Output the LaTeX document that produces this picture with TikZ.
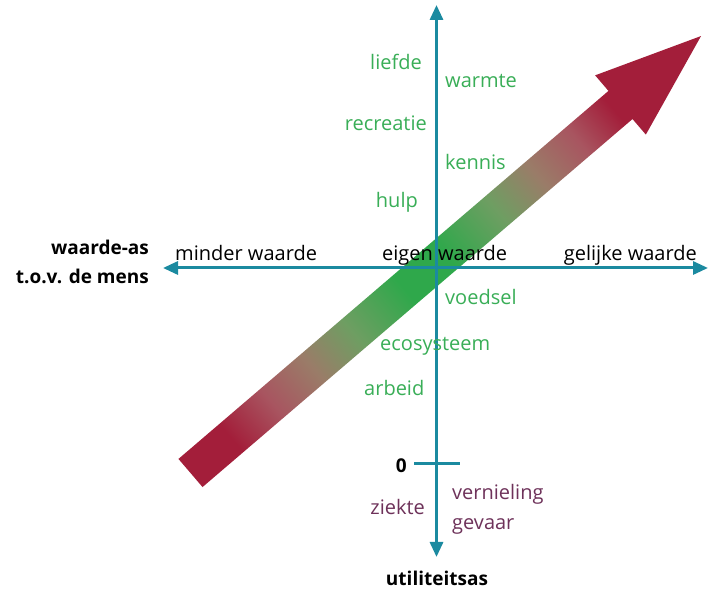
\documentclass[tikz,border=0pt]{standalone}
\usepackage{fontspec}
\setmainfont{Open Sans}
\usetikzlibrary{arrows.meta, positioning}
\definecolor{axteal}{HTML}{1B8AA0}
\definecolor{lblgreen}{HTML}{39AE57}
\definecolor{lblplum}{HTML}{6E325A}
\definecolor{arrred}{HTML}{A31E3A}
\definecolor{arrgreen}{HTML}{2FA84B}
\definecolor{fadepink}{HTML}{A85560}
\definecolor{fadebrown}{HTML}{9A7C68}
\definecolor{fadeolive}{HTML}{6E9E62}
\pgfdeclarehorizontalshading{valuefade}{100bp}{color(0bp)=(arrred); color(29bp)=(arrred);
  color(33bp)=(fadepink); color(37bp)=(fadebrown); color(41bp)=(fadeolive);
  color(46bp)=(arrgreen); color(50bp)=(arrgreen); color(55bp)=(fadeolive);
  color(59bp)=(fadebrown); color(63bp)=(fadepink); color(66.5bp)=(arrred);
  color(100bp)=(arrred)}

\begin{document}
\begin{tikzpicture}[x=1pt, y=1pt,
  >={Triangle[length=15pt, width=13pt]},
  axis/.style={<->, line width=3pt, axteal},
  lbl/.style={font=\fontsize{20}{24}\selectfont, inner sep=0pt, text=#1},
  axtitle/.style={font=\fontsize{19}{23}\selectfont\bfseries, inner sep=0pt, text=black},
]

% Background
\useasboundingbox (0,0) rectangle (709,593);
\fill[white] (0,0) rectangle (709,593);

% =============================================
% Shaded value arrow (drawn first, axes go over it)
% =============================================
\begin{scope}[transform canvas={shift={(190.5,120)}, rotate=40.56}]
  \shade[shading=valuefade] (0,-18.5) -- (566,-18.5) -- (566,-39) -- (672,0)
    -- (566,39) -- (566,18.5) -- (0,18.5) -- cycle;
\end{scope}

% =============================================
% Axes
% =============================================
\coordinate (west) at (163,325);
\coordinate (east) at (708,325);
\coordinate (top) at (436.5,588);
\coordinate (bottom) at (436.5,36);
\coordinate (tickl) at (414,129);
\coordinate (tickr) at (460,129);

\draw[axis] (west) -- (east);
\draw[axis] (bottom) -- (top);
\draw[line width=3pt, axteal] (tickl) -- (tickr);

% Axis titles
\node[axtitle, anchor=base east] (wtitle) at (149,338) {waarde-as};
\node[axtitle, anchor=base east] (wtitle2) at (149,309.7) {t.o.v. de mens};
\node[axtitle, anchor=base] (utitle) at (437,7) {utiliteitsas};
\node[axtitle, anchor=base east] (zero) at (407,120) {0};

% =============================================
% Labels on the horizontal axis
% =============================================
\node[lbl=black, anchor=base west] (minder) at (175,332.3) {minder waarde};
\node[lbl=black, anchor=base west] (eigen) at (382,332.3) {eigen waarde};
\node[lbl=black, anchor=base east] (gelijk) at (697,332.3) {gelijke waarde};

% =============================================
% Useful things (green)
% =============================================
\node[lbl=lblgreen, anchor=base east] (liefde) at (422,523.7) {liefde};
\node[lbl=lblgreen, anchor=base west] (warmte) at (445,505.3) {warmte};
\node[lbl=lblgreen, anchor=base east] (recreatie) at (427,462.3) {recreatie};
\node[lbl=lblgreen, anchor=base west] (kennis) at (445,423.7) {kennis};
\node[lbl=lblgreen, anchor=base east] (hulp) at (418,385) {hulp};
\node[lbl=lblgreen, anchor=base west] (voedsel) at (445,288) {voedsel};
\node[lbl=lblgreen, anchor=base west] (ecosys) at (380,242.3) {ecosysteem};
\node[lbl=lblgreen, anchor=base east] (arbeid) at (424.5,197.3) {arbeid};

% =============================================
% Harmful things (below zero)
% =============================================
\node[lbl=lblplum, anchor=base east] (ziekte) at (425,78) {ziekte};
\node[lbl=lblplum, anchor=base west] (vernieling) at (452,93) {vernieling};
\node[lbl=lblplum, anchor=base west] (gevaar) at (452,63.7) {gevaar};

\end{tikzpicture}
\end{document}
